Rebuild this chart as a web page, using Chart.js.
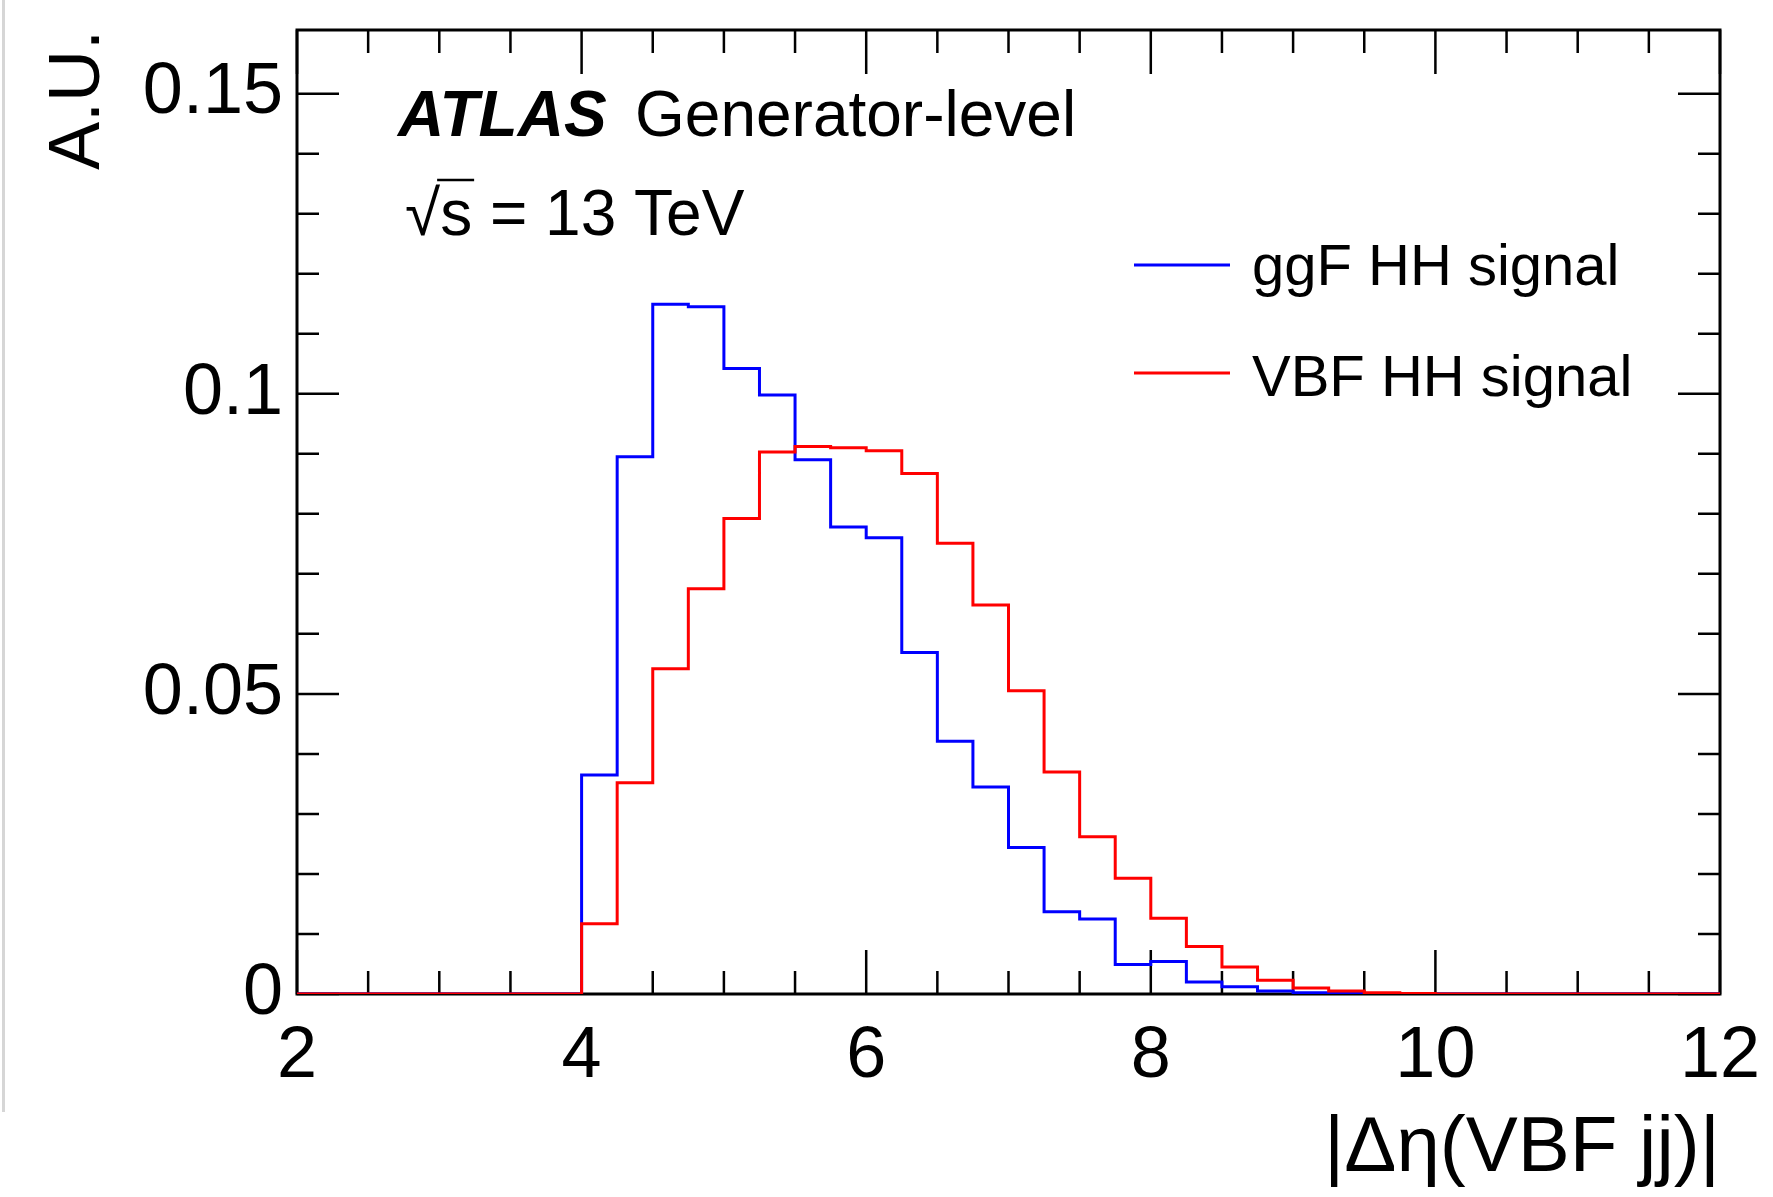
<!DOCTYPE html>
<html>
<head>
<meta charset="utf-8">
<script src="https://cdn.jsdelivr.net/npm/chart.js@4.4.1/dist/chart.umd.min.js"></script>
<style>
  html, body { margin: 0; padding: 0; background: #fff; }
  #wrap { position: relative; width: 1773px; height: 1197px; }
  #edge { position: absolute; left: 2px; top: 0; width: 3px; height: 1112px; background: #d6d6d6; }
</style>
</head>
<body>
<div id="wrap">
  <canvas id="chart" width="1773" height="1197"></canvas>
  <div id="edge"></div>
</div>
<script>
// histogram binning: 40 bins of 0.25 from 2 to 12
const binStart = 2;
const binWidth = 0.25;
const binCount = 40;

// normalised bin contents
const ggfValues = [
    0, 0, 0, 0, 0, 0, 0, 0,
    0.0365, 0.0895, 0.1149, 0.1145, 0.1042, 0.0998, 0.0890, 0.0778,
    0.0760, 0.0569, 0.0421, 0.0345, 0.0244, 0.0137, 0.0125, 0.0049,
    0.0054, 0.0020, 0.0012, 0.0005, 0.0002, 0.0001,
    0, 0, 0, 0, 0, 0, 0, 0, 0, 0
];
const vbfValues = [
    0, 0, 0, 0, 0, 0, 0, 0,
    0.0117, 0.0352, 0.0542, 0.0675, 0.0792, 0.0903, 0.0912, 0.0910,
    0.0905, 0.0867, 0.0751, 0.0648, 0.0505, 0.0370, 0.0262, 0.0193,
    0.0126, 0.0079, 0.0045, 0.0023, 0.0010, 0.0005, 0.0002, 0.0001,
    0, 0, 0, 0, 0, 0, 0, 0
];

const seriesNames = ['ggF HH signal', 'VBF HH signal'];
const seriesColors = ['#0000ff', '#ff0000'];

const xMin = 2, xMax = 12;
const yMin = 0, yMax = 0.1606;
const xMajorLabels = [2, 4, 6, 8, 10, 12];
const yMajorLabels = ['0', '0.05', '0.1', '0.15'];

const FONT = '"Liberation Sans", Arial, Helvetica, sans-serif';

// points at the lower bin edges + the last upper edge, drawn as steps
const toSteps = (values) => {
    const pts = values.map((v, i) => ({ x: binStart + i * binWidth, y: v }));
    pts.push({ x: binStart + binCount * binWidth, y: values[values.length - 1] });
    return pts;
};

const isMultiple = (v, step) => Math.abs(v / step - Math.round(v / step)) < 1e-6;

// frame + inward ticks on all four sides (ROOT style)
const framePlugin = {
    id: 'frame',
    beforeDatasetsDraw(chart) {
        const { ctx, chartArea: a, scales } = chart;
        ctx.save();
        ctx.strokeStyle = '#000';
        ctx.lineWidth = 2.5;
        ctx.lineCap = 'butt';

        ctx.beginPath();
        scales.x.ticks.forEach(t => {
            if (!isMultiple(t.value, 0.5)) return;
            const px = scales.x.getPixelForValue(t.value);
            const len = isMultiple(t.value, 2) ? 44 : 23;
            ctx.moveTo(px, a.bottom);
            ctx.lineTo(px, a.bottom - len);
            ctx.moveTo(px, a.top);
            ctx.lineTo(px, a.top + len);
        });
        scales.y.ticks.forEach(t => {
            if (!isMultiple(t.value, 0.01) || t.value > yMax) return;
            const py = scales.y.getPixelForValue(t.value);
            const len = isMultiple(t.value, 0.05) ? 42 : 22;
            ctx.moveTo(a.left, py);
            ctx.lineTo(a.left + len, py);
            ctx.moveTo(a.right, py);
            ctx.lineTo(a.right - len, py);
        });
        ctx.stroke();

        ctx.lineWidth = 3;
        ctx.strokeRect(a.left, a.top, a.right - a.left, a.bottom - a.top);
        ctx.restore();
    },
    afterDraw(chart) {
        const { ctx } = chart;
        ctx.save();
        ctx.fillStyle = '#000';
        ctx.textBaseline = 'alphabetic';
        ctx.textAlign = 'left';

        ctx.font = `italic bold 64px ${FONT}`;
        ctx.fillText('ATLAS', 398, 136);
        ctx.font = `64px ${FONT}`;
        ctx.fillText('Generator-level', 635, 136);

        const sx = 405, sy = 235;
        ctx.fillText('\u221As = 13 TeV', sx, sy);
        const wRoot = ctx.measureText('\u221A').width;
        const wS = ctx.measureText('\u221As').width;
        ctx.strokeStyle = '#000';
        ctx.lineWidth = 2.5;
        ctx.beginPath();
        ctx.moveTo(sx + wRoot - 3, sy - 55);
        ctx.lineTo(sx + wS + 2, sy - 55);
        ctx.stroke();

        // legend
        const legendY = [265, 373];
        const textY = [285, 396];
        ctx.font = `58px ${FONT}`;
        seriesNames.forEach((name, i) => {
            ctx.strokeStyle = seriesColors[i];
            ctx.lineWidth = 3;
            ctx.beginPath();
            ctx.moveTo(1134, legendY[i]);
            ctx.lineTo(1230, legendY[i]);
            ctx.stroke();
            ctx.fillStyle = '#000';
            ctx.fillText(name, 1252, textY[i]);
        });
        ctx.restore();
    }
};

const data = {
    datasets: [
        {
            label: seriesNames[0],
            data: toSteps(ggfValues),
            borderColor: seriesColors[0],
            borderWidth: 3,
            stepped: 'before',
            pointRadius: 0,
            fill: false,
            order: 1,
        },
        {
            label: seriesNames[1],
            data: toSteps(vbfValues),
            borderColor: seriesColors[1],
            borderWidth: 3,
            stepped: 'before',
            pointRadius: 0,
            fill: false,
            order: 0,
        },
    ],
};

const options = {
    responsive: false,
    animation: false,
    events: [],
    layout: {
        padding: { top: 30, right: 53, left: 0, bottom: 0 }
    },
    plugins: {
        legend: { display: false },
        tooltip: { enabled: false },
    },
    scales: {
        x: {
            type: 'linear',
            min: xMin,
            max: xMax,
            grid: { display: false, drawTicks: false },
            border: { display: false },
            ticks: {
                stepSize: 0.5,
                autoSkip: false,
                maxRotation: 0,
                padding: 20,
                color: '#000',
                font: { family: FONT, size: 72 },
                callback: (v) => xMajorLabels.includes(v) ? String(v) : '',
            },
            title: {
                display: true,
                text: '|\u0394\u03B7(VBF jj)|',
                align: 'end',
                color: '#000',
                font: { family: FONT, size: 78 },
                padding: { top: 0, bottom: 1 },
            },
            afterFit: (scale) => {
                scale.height = 203;
                scale.paddingLeft = 0;
                scale.paddingRight = 0;
            },
        },
        y: {
            type: 'linear',
            min: yMin,
            max: yMax,
            grid: { display: false, drawTicks: false },
            border: { display: false },
            ticks: {
                stepSize: 0.01,
                autoSkip: false,
                padding: 14,
                color: '#000',
                font: { family: FONT, size: 72 },
                callback: (v) => {
                    if (!isMultiple(v, 0.05)) return '';
                    const k = Math.round(v / 0.05);
                    return k < yMajorLabels.length ? yMajorLabels[k] : '';
                },
            },
            title: {
                display: true,
                text: 'A.U.',
                align: 'end',
                color: '#000',
                font: { family: FONT, size: 72 },
                padding: { top: 36, bottom: 0 },
            },
            afterFit: (scale) => {
                scale.width = 297;
                scale.paddingTop = 0;
                scale.paddingBottom = 0;
            },
        },
    },
};

const chart = new Chart(document.getElementById('chart').getContext('2d'), {
    type: 'line',
    data: data,
    options: options,
    plugins: [framePlugin],
});
</script>
</body>
</html>
